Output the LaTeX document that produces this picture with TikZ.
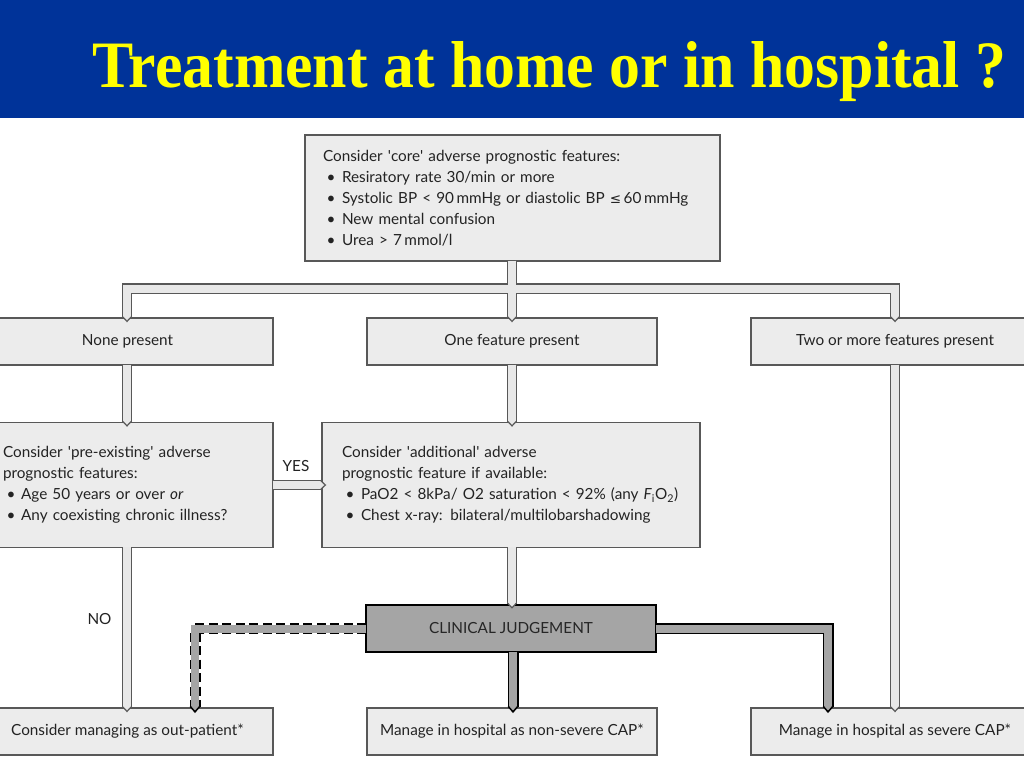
\documentclass[tikz,border=0pt]{standalone}
\usepackage{fontspec}
\usepackage{graphicx}
\setmainfont{Lato}
\newfontfamily\titlefont{Liberation Serif}
\newfontfamily\symf{DejaVu Sans}
\usetikzlibrary{calc}
\definecolor{bandblue}{RGB}{0,51,153}
\definecolor{ttl}{RGB}{255,255,0}
\definecolor{boxfill}{RGB}{236,236,236}
\definecolor{boxline}{RGB}{88,88,88}
\definecolor{txt}{RGB}{35,35,35}
\definecolor{clinfill}{RGB}{165,165,165}
\definecolor{pipefill}{RGB}{232,232,232}
\newcommand\bul[1][19pt]{\makebox[#1][l]{\hspace{3.5pt}\textbullet}}
\newcommand\q{\textquotesingle}
\begin{document}
\begin{tikzpicture}[x=1pt,y=-1pt,
  box/.style={draw=boxline, fill=boxfill, line width=1.2pt, inner sep=0pt, text=txt,
              font=\fontsize{15.3}{21}\selectfont},
  clinbox/.style={draw=black, fill=clinfill, line width=2.4pt, inner sep=0pt, text=black!85,
              font=\fontsize{15.3}{21}\selectfont},
  lbl/.style={inner sep=0pt, text=txt, font=\fontsize{15.3}{21}\selectfont},
  pipein/.style={draw=pipefill, line width=8pt, preaction={draw=boxline, line width=10.4pt}},
  graypipe/.style={draw=clinfill, line width=8pt, preaction={draw=black, line width=11pt}},
  dashpipe/.style={draw=clinfill, line width=8pt, preaction={draw=black, line width=11pt, dash pattern=on 9pt off 4.5pt}},
  tiplight/.pic={\filldraw[fill=pipefill,draw=boxline,line width=1.2pt] (-4.6,-0.9) -- (0,4) -- (4.6,-0.9);},
  tipgray/.pic={\filldraw[fill=clinfill,draw=black,line width=1.5pt] (-4.75,-1) -- (0,4.5) -- (4.75,-1);},
  tipright/.pic={\filldraw[fill=pipefill,draw=boxline,line width=1.2pt] (-0.9,-4.6) -- (4,0) -- (-0.9,4.6);}
]
\useasboundingbox (0,0) rectangle (1024,768);
\clip (0,0) rectangle (1024,768);
\fill[white] (0,0) rectangle (1024,768);
% title band
\fill[bandblue] (0,0) rectangle (1024,118);
\node[anchor=base west, inner sep=0pt, text=ttl] (title) at (92,87)
  {\resizebox{914pt}{46pt}{\titlefont\bfseries Treatment at home or in hospital ?}};

% boxes
\node[box, minimum width=415pt, minimum height=126pt, text width=379pt, align=left] (core) at (512.5,198)
  {Consider \q core\q{} adverse prognostic features:\\
   \bul Resiratory rate 30/min or more\\
   \bul \mbox{Systolic BP < 90\,mmHg or diastolic BP {\symf\fontsize{13.5}{21}\selectfont ≤}\,60\,mmHg}\\
   \bul New mental confusion\\
   \bul Urea > 7\,mmol/l};

\node[box, minimum width=291pt, minimum height=47pt] (none) at (127.5,341.5) {None present};
\node[box, minimum width=290pt, minimum height=47pt] (one) at (512,341.5) {One feature present};
\node[box, minimum width=288pt, minimum height=47pt] (two) at (895,341.5) {Two or more features present};

\node[box, minimum width=291pt, minimum height=125pt, text width=249pt, align=left] (pre) at (127.5,485)
  {Consider \q pre-existing\q{} adverse\\
   prognostic features:\\
   \bul[13pt] Age 50 years or over \textit{or}\\
   \bul[13pt] Any coexisting chronic illness?};

\node[box, minimum width=378pt, minimum height=125pt, text width=338pt, align=left] (add) at (511,485)
  {Consider \q additional\q{} adverse\\
   prognostic feature if available:\\
   \bul \mbox{PaO2 < 8kPa/ O2 saturation < 92\% (any \textit{F}\textsubscript{i}O\textsubscript{2})}\\
   \bul \mbox{Chest x-ray: bilateral/multilobarshadowing}};

\node[clinbox, minimum width=290pt, minimum height=47pt] (clin) at (511,628.5) {CLINICAL JUDGEMENT};

\node[box, minimum width=291pt, minimum height=47pt] (out) at (127.5,731.5) {Consider managing as out-patient*};
\node[box, minimum width=290pt, minimum height=47pt] (non) at (512,731.5) {Manage in hospital as non-severe CAP*};
\node[box, minimum width=288pt, minimum height=47pt] (sev) at (895,731.5) {Manage in hospital as severe CAP*};

% labels
\node[lbl] (yes) at (296,466) {YES};
\node[lbl] (no) at (99.5,619) {NO};

% coordinates of pipe bends
\coordinate (j) at (512,288.5);
\coordinate (jl) at (127,288.5);
\coordinate (jr) at (895,288.5);
\coordinate (dl) at (195,628.5);
\coordinate (dr) at (828,628.5);
\coordinate (jc) at (513,628.5);

% light pipes
\draw[pipein] ($(core.south -| j)+(0,-1)$) -- (one.north -| j)
  (none.north -| jl) -- (jl) -- (jr) -- (two.north -| jr);
\draw[pipein] ($(none.south -| jl)+(0,-1)$) -- (pre.north -| jl);
\draw[pipein] ($(pre.south -| jl)+(0,-1)$) -- (out.north -| jl);
\draw[pipein] ($(one.south -| j)+(0,-1)$) -- (add.north -| j);
\draw[pipein] ($(add.south -| j)+(0,-1)$) -- (clin.north -| j);
\draw[pipein] ($(two.south -| jr)+(0,-1)$) -- (sev.north -| jr);
\draw[pipein] ($(pre.east)+(-1,0)$) -- (add.west |- pre.east);

% grey pipes from clinical judgement
\draw[dashpipe] ($(clin.west)+(1.5,0)$) -- (dl) -- (out.north -| dl);
\draw[graypipe] ($(clin.south -| jc)+(0,-1.5)$) -- (non.north -| jc);
\draw[graypipe] ($(clin.east)+(-1.5,0)$) -- (dr) -- (sev.north -| dr);

% tips
\pic at (one.north -| j) {tiplight};
\pic at (none.north -| jl) {tiplight};
\pic at (two.north -| jr) {tiplight};
\pic at (pre.north -| jl) {tiplight};
\pic at (out.north -| jl) {tiplight};
\pic at (add.north -| j) {tiplight};
\pic at (clin.north -| j) {tiplight};
\pic at (sev.north -| jr) {tiplight};
\pic at (add.west |- pre.east) {tipright};
\pic at (out.north -| dl) {tipgray};
\pic at (non.north -| jc) {tipgray};
\pic at (sev.north -| dr) {tipgray};
\end{tikzpicture}
\end{document}
